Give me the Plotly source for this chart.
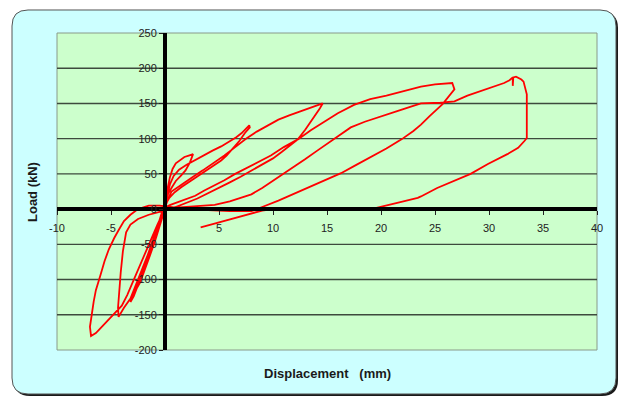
import plotly.graph_objects as go

# ---------------- data ----------------
cycle1_disp = [0, 0.1, 0.25, 0.45, 0.7, 1.0, 1.4, 1.8, 2.2, 2.6, 2.3, 1.9, 1.5, 1.0, 0.6, 0.3, 0.05,
               -0.3, -0.7, -1.1, -1.5, -1.9, -2.3, -2.6, -2.3, -1.9, -1.4, -0.9, -0.5, -0.15, 0.05]
cycle1_load = [0, 12, 30, 45, 57, 65, 70, 74, 76, 78, 66, 55, 48, 40, 30, 22, 12,
               -5, -25, -45, -65, -85, -100, -112, -104, -88, -66, -44, -25, -8, 3]

cycle2_disp = [0.2, 0.45, 0.8, 1.3, 2.0, 2.8, 3.6, 4.4, 5.2, 6.0, 6.6, 7.1, 7.5, 7.8, 7.85,
               7.4, 6.9, 6.3, 5.7, 5.2, 4.5, 3.8, 3.0, 2.2, 1.5, 0.9, 0.4, 0.1,
               -0.3, -0.8, -1.3, -1.8, -2.3, -2.8, -3.2,
               -2.9, -2.5, -2.0, -1.5, -1.0, -0.5, -0.1, 0.1]
cycle2_load = [18, 35, 47, 56, 63, 70, 77, 83, 89, 96, 102, 108, 114, 119, 116,
               108, 97, 86, 76, 69, 62, 55, 47, 39, 31, 24, 16, 8,
               -8, -30, -52, -75, -98, -118, -132,
               -124, -108, -86, -64, -42, -20, -3, 5]

cycle3_disp = [0.3, 0.6, 1.5, 2.5, 3.5, 4.5, 5.5, 6.5, 7.5, 8.5, 9.5, 10.5, 11.5, 12.6, 13.5, 14.2, 14.6,
               14.3, 13.7, 13.0, 12.3, 11.5, 10.8, 10.0, 9.0, 8.0, 7.0, 6.0, 5.0, 4.0, 3.0, 2.0, 1.2, 0.5,
               -0.5, -1.5, -2.5, -3.2, -3.6, -3.9, -4.1, -4.2, -4.35, -4.3,
               -3.8, -3.2, -2.7, -2.2, -1.6, -1.0, -0.5, -0.1, 0.1]
cycle3_load = [15, 25, 35, 45, 55, 65, 76, 88, 100, 110, 119, 127, 133, 139, 144, 147, 150,
               142, 128, 113, 99, 89, 81, 72, 63, 54, 46, 38, 30, 22, 15, 9, 4, 0,
               -4, -8, -14, -22, -33, -60, -90, -115, -140, -153,
               -140, -127, -108, -88, -66, -42, -20, -4, 3]

cycle4_disp = [0.5, 1.2, 2.0, 2.8, 3.6, 4.5, 5.5, 6.5, 7.5, 8.5, 9.8, 11.0, 12.3, 13.5, 14.8, 16.0, 17.5,
               19.0, 20.5, 22.0, 23.7, 25.0, 25.8, 26.6, 26.8,
               26.3, 25.7, 24.5, 23.7, 23.0, 21.9, 20.5, 19.0, 17.5, 16.3, 14.5, 12.5, 10.5, 9.0, 8.0,
               6.0, 4.0, 2.0, 0.5, -0.5, -1.5, -2.5, -3.2, -3.8, -4.3, -4.7, -5.2, -5.6, -6.0, -6.4,
               -6.6, -6.8, -6.95, -6.85,
               -6.4, -5.9, -5.4, -5.0, -4.5, -4.0, -3.5, -2.9, -2.4, -1.9, -1.3, -0.7, -0.2, 0.2]
cycle4_load = [6, 10, 14, 19, 26, 33, 41, 50, 58, 66, 76, 88, 99, 112, 124, 136, 148,
               156, 161, 167, 174, 177, 178, 179, 170,
               160, 149, 132, 120, 111, 99, 86, 74, 61, 51, 39, 25, 12, 3, -3,
               -3, -2, 0, 3, 5, 5, 0, -8, -17, -30, -41, -57, -74, -95, -115,
               -131, -150, -167, -180,
               -176, -168, -160, -153, -146, -137, -122, -100, -82, -64, -44, -22, -6, 0]

cycle5_disp = [1.0, 2.0, 3.2, 4.6, 6.0, 7.0, 8.0, 9.0, 10.0, 11.0, 12.0, 13.0, 14.1, 15.2, 16.2, 17.2,
               18.5, 20.0, 21.5, 22.7, 23.7, 25.5, 26.8, 28.0, 29.0, 30.2, 31.4, 31.9, 32.2, 32.2, 32.25,
               32.5, 32.8, 33.0, 33.2, 33.4, 33.5, 33.5, 33.5, 33.5,
               33.3, 32.7, 31.7, 29.9, 28.3, 26.8, 25.2, 23.7, 23.4, 21.5, 20.2, 19.1,
               16.0, 13.0, 10.5, 9.0, 7.5, 6.0, 4.5, 3.3]
cycle5_load = [2, 3, 4, 6, 11, 16, 21, 30, 40, 50, 60, 71, 83, 95, 106, 116,
               124, 132, 139, 145, 150, 151, 153, 161, 166, 172, 179, 183, 187, 175, 187,
               188, 186, 184, 181, 170, 163, 140, 120, 101,
               97, 87, 78, 64, 50, 40, 30, 18, 16, 9, 4, 0,
               0, 1, 1, -2, -8, -15, -21, -26]

displacement = cycle1_disp + cycle2_disp + cycle3_disp + cycle4_disp + cycle5_disp
load = cycle1_load + cycle2_load + cycle3_load + cycle4_load + cycle5_load

x_ticks = [-10, -5, 5, 10, 15, 20, 25, 30, 35, 40]
y_ticks = [-200, -150, -100, -50, 0, 50, 100, 150, 200, 250]
x_range = [-10, 40]
y_range = [-200, 250]

# ---------------- layout helpers ----------------
W, H = 629, 396
OFF = 8  # default page margin of the html body
# plot area in page pixels: x 57..597, y 33..350
ML, MT = 57 - OFF, 33 - OFF
MR, MB = W - (597 - OFF), H - (350 - OFF)
PW, PH = W - ML - MR, H - MT - MB


def to_paper(px, py):
    """page pixel -> paper coords"""
    return (px - OFF - ML) / PW, (H - MB - (py - OFF)) / PH


def rounded_path(x0, y0, x1, y1, r):
    pts = [("M", [(x0 + r, y0)]), ("L", [(x1 - r, y0)]), ("Q", [(x1, y0), (x1, y0 + r)]),
           ("L", [(x1, y1 - r)]), ("Q", [(x1, y1), (x1 - r, y1)]), ("L", [(x0 + r, y1)]),
           ("Q", [(x0, y1), (x0, y1 - r)]), ("L", [(x0, y0 + r)]), ("Q", [(x0, y0), (x0 + r, y0)])]
    s = ""
    for cmd, ps in pts:
        s += cmd + " " + " ".join("%.5f,%.5f" % to_paper(*p) for p in ps) + " "
    return s + "Z"


FONT = "Liberation Sans, Arial, sans-serif"

shapes = [
    # shadow of the outer frame
    dict(type="path", xref="paper", yref="paper", layer="below",
         path=rounded_path(14, 12, 618, 396, 16), fillcolor="#1a1a1a", line=dict(width=0)),
    # outer frame
    dict(type="path", xref="paper", yref="paper", layer="below",
         path=rounded_path(12, 10, 616, 394, 16), fillcolor="#CCFFFF",
         line=dict(color="#555555", width=1)),
    # plot area
    dict(type="rect", xref="paper", yref="paper", layer="below", x0=0, x1=1, y0=0, y1=1,
         fillcolor="#CCFFCC", line=dict(color="#8a9a8a", width=1)),
]
for v in y_ticks:
    if v in (y_range[0], y_range[1], 0):
        continue
    shapes.append(dict(type="line", xref="paper", yref="y", layer="below", x0=0, x1=1, y0=v, y1=v,
                       line=dict(color="#3d4a3d", width=1.4)))

fig = go.Figure()
fig.add_trace(go.Scatter(x=displacement, y=load, mode="lines",
                         line=dict(color="#FF0000", width=1.8), showlegend=False,
                         hoverinfo="skip"))

fig.update_layout(
    width=W, height=H,
    margin=dict(l=ML, r=MR, t=MT, b=MB, pad=0),
    paper_bgcolor="white",
    plot_bgcolor="rgba(0,0,0,0)",
    shapes=shapes,
    showlegend=False,
    xaxis=dict(range=x_range, tickvals=x_ticks, ticktext=[str(v) for v in x_ticks],
               anchor="free", position=(0 - y_range[0]) / (y_range[1] - y_range[0]),
               showgrid=False, zeroline=False, showline=True, linecolor="black", linewidth=4,
               ticks="outside", ticklen=4, tickcolor="#222", tickwidth=1, ticklabelstandoff=4,
               tickfont=dict(family=FONT, size=11, color="#222")),
    yaxis=dict(range=y_range, tickvals=y_ticks, ticktext=[str(v) for v in y_ticks],
               anchor="free", position=(0 - x_range[0]) / (x_range[1] - x_range[0]),
               showgrid=False, zeroline=False, showline=True, linecolor="black", linewidth=4,
               ticks="outside", ticklen=4, tickcolor="#222", tickwidth=1,
               tickfont=dict(family=FONT, size=11, color="#222")),
    annotations=[
        dict(text="<b>Load (kN)</b>", textangle=-90, xref="paper", yref="paper",
             x=to_paper(32, 192)[0], y=to_paper(32, 192)[1], xanchor="center", yanchor="middle",
             showarrow=False, font=dict(family=FONT, size=13, color="#1a1a1a")),
        dict(text="<b>Displacement\u00a0\u00a0\u00a0(mm)</b>", xref="paper", yref="paper",
             x=to_paper(327, 373)[0], y=to_paper(327, 373)[1], xanchor="center", yanchor="middle",
             showarrow=False, font=dict(family=FONT, size=13, color="#1a1a1a")),
    ],
)

fig.write_html("out.html")
